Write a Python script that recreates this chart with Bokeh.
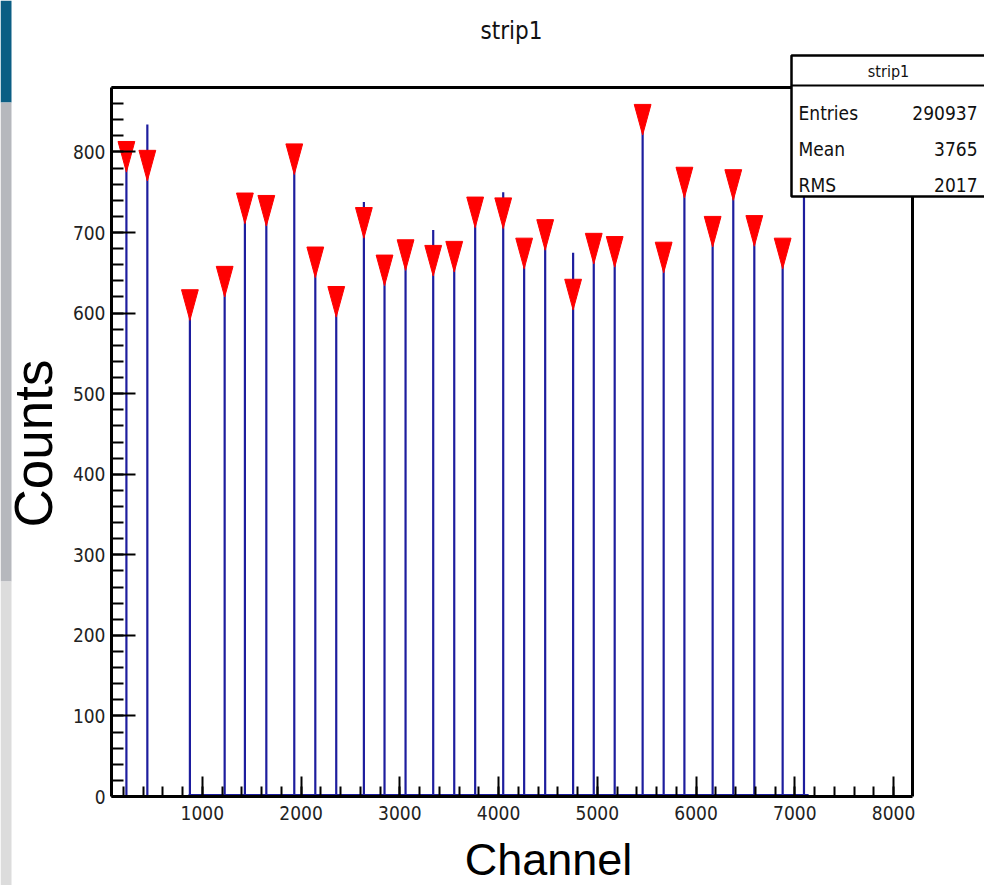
from bokeh.plotting import figure
from bokeh.models import (LinearAxis, Range1d, SingleIntervalTicker, FixedTicker,
                          ColumnDataSource, GridBox)
from bokeh.core.properties import value
from bokeh.embed import file_html
from bokeh.resources import INLINE

# ---------------- data ----------------
peak_channel = [231, 443, 874, 1226, 1431, 1648, 1931, 2144, 2356, 2636, 2845, 3058,
                3338, 3551, 3763, 4047, 4259, 4472, 4755, 4964, 5176, 5459, 5672,
                5882, 6168, 6377, 6590, 6877, 7093]
peak_counts = [794, 834, 610, 639, 730, 727, 791, 663, 614, 738, 653, 672, 703, 670,
               725, 750, 674, 697, 675, 680, 676, 840, 669, 762, 701, 759, 702, 674, 790]
# TSpectrum markers (first 28 peaks; the last one is hidden by the stats box)
marker_counts = [794, 783, 610, 639, 730, 727, 791, 663, 614, 712, 653, 672, 665, 670,
                 725, 724, 674, 697, 623, 680, 676, 840, 669, 762, 701, 759, 702, 674]
background_channels = [860, 7140]
background_level = 2

title_text = "strip1"
x_title = "Channel"
y_title = "Counts"
stats_title = "strip1"
stats_names = ["Entries", "Mean", "RMS"]
stats_values = ["290937", "3765", "2017"]

x_ticks_interval = 1000
y_ticks_interval = 100

# ---------------- styling ----------------
BLUE = "#1d1d9e"
TICKFONT = "DejaVu Sans Condensed"
ROOTFONT = "DejaVu Sans Condensed"
SLIDEFONT = "Liberation Sans"
W, H = 984, 885
FL, FR, FT, FB = 111, 72, 87, 89          # borders around the frame

p = figure(width=W, height=H, output_backend="svg", toolbar_location=None,
           x_range=Range1d(80, 8192), y_range=Range1d(0, 880),
           min_border_left=FL, min_border_right=FR, min_border_top=FT,
           min_border_bottom=FB, x_axis_location=None, y_axis_location=None)
p.outline_line_color = None
p.background_fill_color = "white"
p.border_fill_color = "white"
p.xgrid.visible = False
p.ygrid.visible = False

xaxis = LinearAxis(ticker=SingleIntervalTicker(interval=x_ticks_interval, num_minor_ticks=5))
yaxis = LinearAxis(ticker=SingleIntervalTicker(interval=y_ticks_interval, num_minor_ticks=5))
for ax, tin, min_in in ((xaxis, 20, 10), (yaxis, 24, 12)):
    ax.axis_line_width = 3
    ax.axis_line_color = "black"
    ax.major_tick_in = tin
    ax.major_tick_out = 0
    ax.minor_tick_in = min_in
    ax.minor_tick_out = 0
    ax.major_tick_line_width = 2
    ax.minor_tick_line_width = 2
    ax.major_tick_line_color = "black"
    ax.minor_tick_line_color = "black"
    ax.major_label_text_font = TICKFONT
    ax.major_label_text_font_size = "19px"
    ax.major_label_text_color = "#222222"
xaxis.major_label_standoff = 9
yaxis.major_label_standoff = 6
p.add_layout(xaxis, "below")
p.add_layout(yaxis, "left")

for side in ("above", "right"):
    fa = LinearAxis(ticker=FixedTicker(ticks=[]), major_tick_in=0, major_tick_out=0,
                    minor_tick_in=0, minor_tick_out=0, axis_line_width=3,
                    axis_line_color="black")
    p.add_layout(fa, side)

# histogram: background and peaks
p.line(x=background_channels, y=[background_level] * len(background_channels),
       line_color=BLUE, line_width=2)
src = ColumnDataSource(dict(x=peak_channel, h=peak_counts))
p.segment(x0="x", y0=0, x1="x", y1="h", source=src, line_color=BLUE, line_width=2.2)

# peak markers (downward triangles, ROOT marker style 23)
HW, HH = 85, 19
xs = [[c - HW, c + HW, c] for c in peak_channel[:len(marker_counts)]]
ys = [[m + HH, m + HH, m - HH] for m in marker_counts]
p.patches(xs=xs, ys=ys, fill_color="red", line_color="red", line_width=1)

# ---------------- overlay in page pixels (stats box, titles, slide strip) ----------------
ov = figure(width=W, height=H, output_backend="svg", toolbar_location=None,
            x_range=Range1d(0, W), y_range=Range1d(H, 0), min_border=0,
            x_axis_location=None, y_axis_location=None)
ov.background_fill_color = None
ov.border_fill_color = None
ov.outline_line_color = None
ov.xgrid.visible = False
ov.ygrid.visible = False
for fig in (p, ov):
    try:
        fig.frame_align = False
    except Exception:
        pass

# slide decoration strip at the left edge
ov.quad(left=[0, 0, 0], right=[11, 11, 11], top=[0, 102, 581], bottom=[102, 581, H],
        fill_color=["#0b5e84", "#b6b8bd", "#dcdcdc"], line_color=None)

# stats box
ov.quad(left=[791], right=[W + 10], top=[55], bottom=[196],
        fill_color="white", line_color="black", line_width=2.5)
ov.segment(x0=[791], y0=[85], x1=[W + 10], y1=[85], line_color="black", line_width=2)
ov.text(x=[888], y=[71], text=[stats_title], text_font=value(ROOTFONT),
        text_font_size=value("16px"), text_align="center", text_baseline="middle",
        text_color="#111111")
row_y = [112, 148, 184]
ov.text(x=[798] * 3, y=row_y, text=stats_names, text_font=value(ROOTFONT),
        text_font_size=value("19px"), text_align="left", text_baseline="middle",
        text_color="#111111")
ov.text(x=[977] * 3, y=row_y, text=stats_values, text_font=value(ROOTFONT),
        text_font_size=value("19px"), text_align="right", text_baseline="middle",
        text_color="#111111")

# title and axis titles
ov.text(x=[511], y=[30], text=[title_text], text_font=value(ROOTFONT),
        text_font_size=value("24px"), text_align="center", text_baseline="middle",
        text_color="#111111")
ov.text(x=[33], y=[443], text=[y_title], angle=1.5707963, text_font=value(SLIDEFONT),
        text_font_size=value("53px"), text_align="center", text_baseline="middle",
        text_color="black")
ov.text(x=[548], y=[859], text=[x_title], text_font=value(SLIDEFONT),
        text_font_size=value("45px"), text_align="center", text_baseline="middle",
        text_color="black")

layout = GridBox(children=[(p, 0, 0), (ov, 0, 0)])
open("out.html", "w").write(file_html(layout, INLINE))
